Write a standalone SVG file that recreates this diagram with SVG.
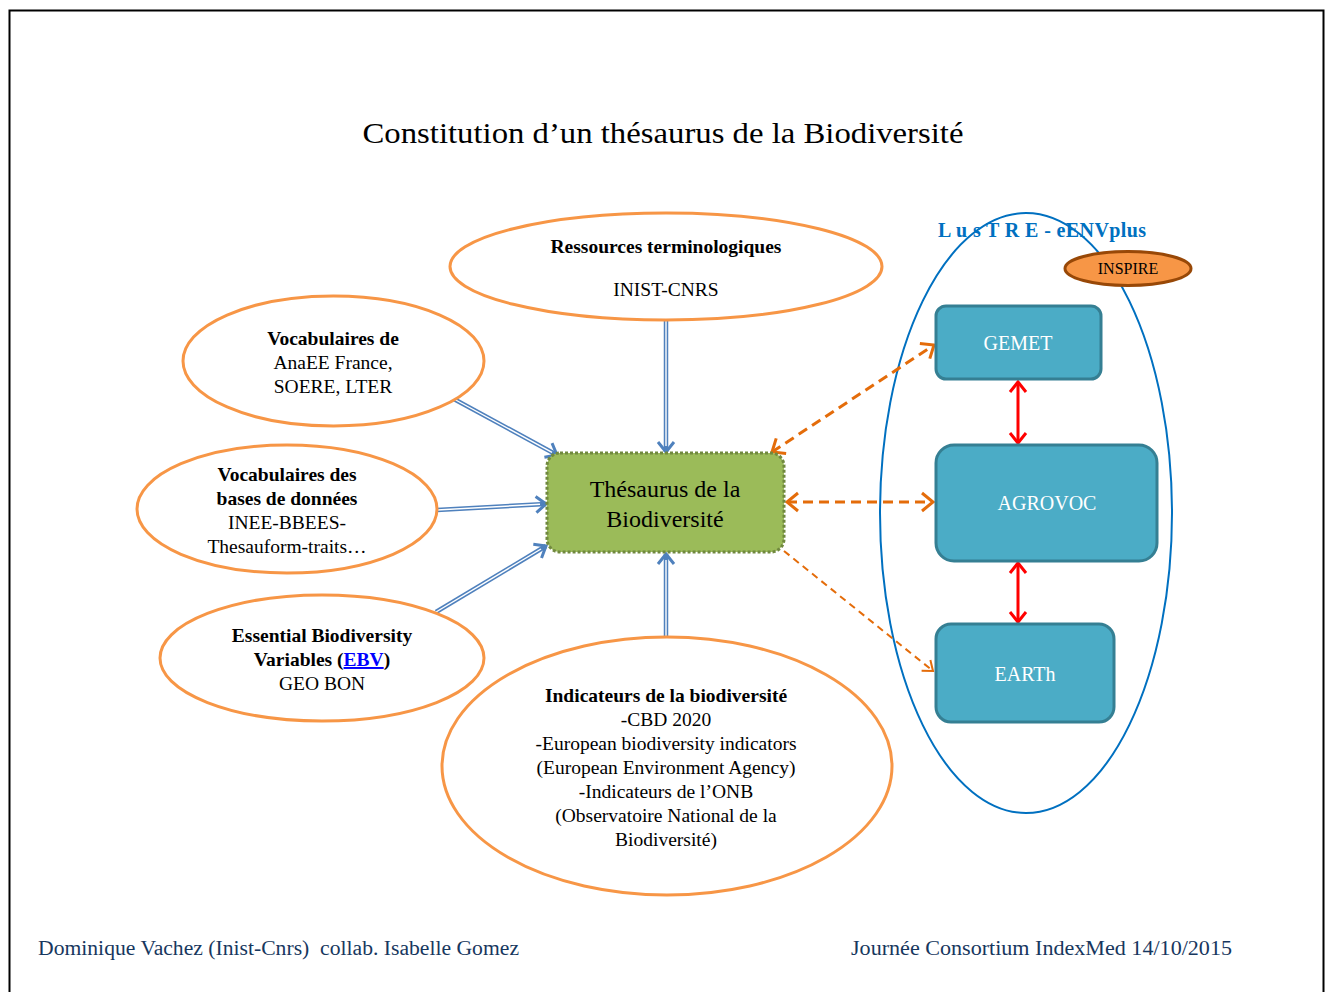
<svg xmlns="http://www.w3.org/2000/svg" width="1330" height="992" viewBox="0 0 1330 992">
<defs>
<style>
text{font-family:"Liberation Serif","Times New Roman",serif;fill:#000;}
.t{font-size:19.5px;text-anchor:middle;}
.b{font-weight:bold;}
.src{fill:#fff;stroke:#F79646;stroke-width:3;}
.bbox{fill:#4BACC6;stroke:#357F93;stroke-width:3;}
.btxt{font-size:20px;fill:#fff;text-anchor:middle;}
.blue{fill:none;stroke:#4F81BD;stroke-width:4.5;}
.bluein{fill:none;stroke:#fff;stroke-width:1.4;}
.or{fill:none;stroke:#E46C0A;stroke-width:3;stroke-dasharray:10 6;}
.or2{fill:none;stroke:#E46C0A;stroke-width:2;stroke-dasharray:7 5;}
.red{fill:none;stroke:#FF0000;stroke-width:3;}
</style>
<marker id="bh" markerWidth="16" markerHeight="20" refX="12" refY="10" orient="auto" markerUnits="userSpaceOnUse" overflow="visible"><path d="M2,2 L12,10 L2,18" fill="none" stroke="#4F81BD" stroke-width="3"/></marker>
<marker id="oh" markerWidth="16" markerHeight="20" refX="12" refY="10" orient="auto-start-reverse" markerUnits="userSpaceOnUse" overflow="visible"><path d="M1,1 L12,10 L1,19" fill="none" stroke="#E46C0A" stroke-width="3"/></marker>
<marker id="oh2" markerWidth="16" markerHeight="20" refX="12" refY="10" orient="auto-start-reverse" markerUnits="userSpaceOnUse" overflow="visible"><path d="M3,3 L12,10 L3,17" fill="none" stroke="#E46C0A" stroke-width="2"/></marker>
<marker id="rh" markerWidth="16" markerHeight="20" refX="12" refY="10" orient="auto-start-reverse" markerUnits="userSpaceOnUse" overflow="visible"><path d="M2,2 L12,10 L2,18" fill="none" stroke="#FF0000" stroke-width="3"/></marker>
</defs>
<rect x="0" y="0" width="1330" height="992" fill="#fff"/>
<rect x="9.5" y="10.5" width="1314" height="1000" fill="none" stroke="#000" stroke-width="2"/>
<text x="663" y="143" font-size="30" text-anchor="middle" textLength="601" lengthAdjust="spacingAndGlyphs">Constitution d’un thésaurus de la Biodiversité</text>

<g id="lustre">
<text x="938" y="237" font-size="20" font-weight="bold" style="fill:#0070C0" textLength="208" lengthAdjust="spacing">L u s T R E - eENVplus</text>
<ellipse cx="1026" cy="513" rx="146" ry="300" fill="none" stroke="#0070C0" stroke-width="2"/>
</g>

<g id="connectors">
<line class="blue" x1="666" y1="321" x2="666" y2="452" marker-end="url(#bh)"/>
<line class="bluein" x1="666" y1="321" x2="666" y2="446"/>
<line class="blue" x1="452" y1="398" x2="557" y2="455" marker-end="url(#bh)"/>
<line class="bluein" x1="452" y1="398" x2="552" y2="452.3"/>
<line class="blue" x1="437" y1="510" x2="546" y2="504" marker-end="url(#bh)"/>
<line class="bluein" x1="437" y1="510" x2="540" y2="504.3"/>
<line class="blue" x1="436" y1="612" x2="546" y2="546" marker-end="url(#bh)"/>
<line class="bluein" x1="436" y1="612" x2="541" y2="549"/>
<line class="blue" x1="666" y1="637" x2="666" y2="554" marker-end="url(#bh)"/>
<line class="bluein" x1="666" y1="637" x2="666" y2="560"/>
<line class="or" x1="772" y1="452" x2="934" y2="345" marker-start="url(#oh)" marker-end="url(#oh)"/>
<line class="or" x1="787" y1="502" x2="933" y2="502" marker-start="url(#oh)" marker-end="url(#oh)"/>
<line class="or2" x1="784" y1="551" x2="933" y2="671" marker-end="url(#oh2)"/>
<line class="red" x1="1018" y1="382" x2="1018" y2="443" marker-start="url(#rh)" marker-end="url(#rh)"/>
<line class="red" x1="1018" y1="563" x2="1018" y2="622" marker-start="url(#rh)" marker-end="url(#rh)"/>
</g>

<g id="ressources">
<ellipse class="src" cx="666" cy="266.5" rx="216" ry="53.5"/>
<text class="t b" x="666" y="253">Ressources terminologiques</text>
<text class="t" x="666" y="296">INIST-CNRS</text>
</g>

<g id="vocab-anaee">
<ellipse class="src" cx="333.5" cy="361" rx="150.5" ry="65"/>
<text class="t b" x="333" y="345">Vocabulaires de</text>
<text class="t" x="333" y="369">AnaEE France,</text>
<text class="t" x="333" y="393">SOERE, LTER</text>
</g>

<g id="vocab-bases">
<ellipse class="src" cx="287" cy="509" rx="150" ry="64"/>
<text class="t b" x="287" y="481">Vocabulaires des</text>
<text class="t b" x="287" y="505">bases de données</text>
<text class="t" x="287" y="529">INEE-BBEES-</text>
<text class="t" x="287" y="553">Thesauform-traits…</text>
</g>

<g id="ebv">
<ellipse class="src" cx="322" cy="658" rx="162" ry="63"/>
<text class="t b" x="322" y="642">Essential Biodiversity</text>
<text class="t b" x="322" y="666">Variables (<tspan style="fill:#0000FF" text-decoration="underline">EBV</tspan>)</text>
<text class="t" x="322" y="690">GEO BON</text>
</g>

<g id="indicateurs">
<ellipse class="src" cx="667" cy="766" rx="225" ry="129"/>
<text class="t b" x="666" y="702">Indicateurs de la biodiversité</text>
<text class="t" x="666" y="726">-CBD 2020</text>
<text class="t" x="666" y="750">-European biodiversity indicators</text>
<text class="t" x="666" y="774">(European Environment Agency)</text>
<text class="t" x="666" y="798">-Indicateurs de l’ONB</text>
<text class="t" x="666" y="822">(Observatoire National de la</text>
<text class="t" x="666" y="846">Biodiversité)</text>
</g>

<g id="thesaurus">
<rect x="547" y="453" width="237" height="99" rx="13" fill="#9BBB59" stroke="#71893F" stroke-width="3" stroke-dasharray="3 2"/>
<text x="665" y="497" font-size="24" text-anchor="middle">Thésaurus de la</text>
<text x="665" y="527" font-size="24" text-anchor="middle">Biodiversité</text>
</g>

<g id="gemet">
<rect class="bbox" x="936" y="306" width="165" height="73" rx="10"/>
<text class="btxt" x="1018" y="350">GEMET</text>
</g>

<g id="agrovoc">
<rect class="bbox" x="936" y="445" width="221" height="116" rx="18"/>
<text class="btxt" x="1047" y="510">AGROVOC</text>
</g>

<g id="earth">
<rect class="bbox" x="936" y="624" width="178" height="98" rx="15"/>
<text class="btxt" x="1025" y="681">EARTh</text>
</g>

<g id="inspire">
<ellipse cx="1128" cy="268.5" rx="63" ry="17" fill="#F79646" stroke="#984807" stroke-width="3"/>
<text x="1128" y="274" font-size="16" text-anchor="middle">INSPIRE</text>
</g>

<text x="38" y="955" font-size="20" style="fill:#17375E" textLength="481" lengthAdjust="spacingAndGlyphs">Dominique Vachez (Inist-Cnrs)&#160; collab. Isabelle Gomez</text>
<text x="851" y="955" font-size="20" style="fill:#17375E" textLength="381" lengthAdjust="spacingAndGlyphs">Journée Consortium IndexMed 14/10/2015</text>
</svg>
